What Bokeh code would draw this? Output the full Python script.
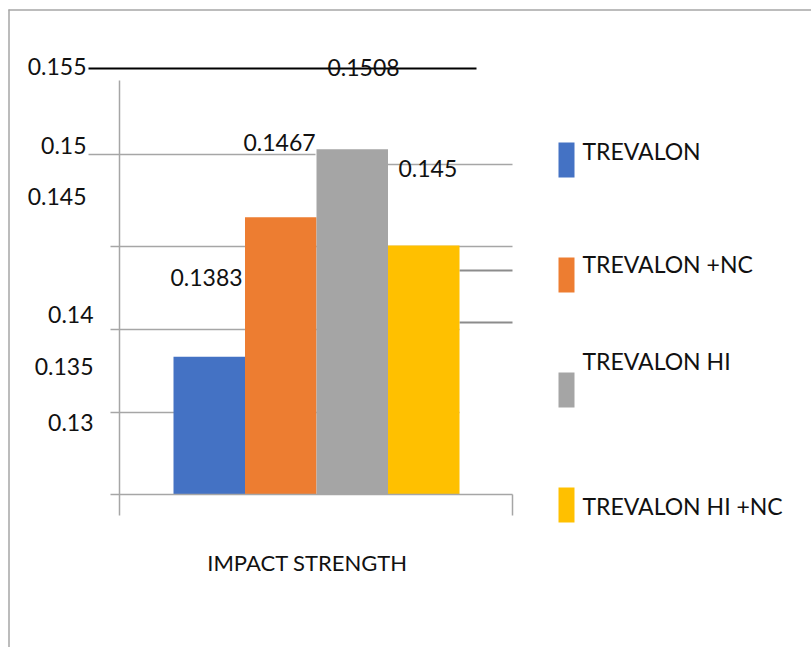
from bokeh.plotting import figure
from bokeh.models import Range1d
from bokeh.core.properties import value
from bokeh.embed import file_html
from bokeh.resources import INLINE

# ---------------- data ----------------
series = ["TREVALON", "TREVALON +NC", "TREVALON HI", "TREVALON HI +NC"]
values = [0.1383, 0.1467, 0.1508, 0.145]
colors = ["#4472C4", "#ED7D31", "#A5A5A5", "#FFC000"]
tick_labels = ["0.155", "0.15", "0.145", "0.14", "0.135", "0.13"]
category = "IMPACT STRENGTH"
axis_min = 0.13
axis_step = 0.005

# ---------------- layout (page pixels of the reference) ----------------
W, H = 811, 647
OFF = 0                    # page offset of the canvas
PX_PER_BAR = 71.5          # width of one bar in pixels
PX_PER_UNIT = 83.0 / axis_step
BAR0_CENTER = 208.75       # page x of first bar centre
BASE_Y = 494.0             # page y of the axis baseline

x_start = -(BAR0_CENTER - OFF) / PX_PER_BAR
x_end = x_start + W / PX_PER_BAR
y_start = axis_min - (H - (BASE_Y - OFF)) / PX_PER_UNIT
y_end = y_start + H / PX_PER_UNIT


def X(px):
    return x_start + (px - OFF) / PX_PER_BAR


def Y(py):
    return y_start + (H - (py - OFF)) / PX_PER_UNIT


p = figure(width=W, height=H, x_range=Range1d(x_start, x_end),
           y_range=Range1d(y_start, y_end), output_backend="svg",
           toolbar_location=None, x_axis_type=None, y_axis_type=None,
           min_border=0)
p.grid.visible = False
p.outline_line_color = None
p.background_fill_color = "white"

FONT = value("Lato")

# outer border
p.segment(x0=[X(8.5), X(8)], y0=[Y(9), Y(9.5)], x1=[X(8.5), X(811)],
          y1=[Y(647), Y(9.5)], line_color="#a6a6a6", line_width=1.5)

# light gridlines (misplaced as in the reference)
g = [(110, 412, 459, 412), (110, 329, 459, 329), (110, 246, 512, 246),
     (88, 154, 315, 154), (387, 164, 512, 164)]
p.segment(x0=[X(a) for a, b, c, d in g], y0=[Y(b) for a, b, c, d in g],
          x1=[X(c) for a, b, c, d in g], y1=[Y(d) for a, b, c, d in g],
          line_color="#a6a6a6", line_width=1.5)
g2 = [(459, 270, 512, 270), (459, 322, 512, 322)]
p.segment(x0=[X(a) for a, b, c, d in g2], y0=[Y(b) for a, b, c, d in g2],
          x1=[X(c) for a, b, c, d in g2], y1=[Y(d) for a, b, c, d in g2],
          line_color="#8c8c8c", line_width=2)

# bars
idx = list(range(len(values)))
p.vbar(x=idx, top=values, bottom=axis_min, width=1.0, fill_color=colors,
       line_color=None)

# axis lines
ax = [(110, 494, 512, 494), (119, 80, 119, 515), (512, 494, 512, 515)]
p.segment(x0=[X(a) for a, b, c, d in ax], y0=[Y(b) for a, b, c, d in ax],
          x1=[X(c) for a, b, c, d in ax], y1=[Y(d) for a, b, c, d in ax],
          line_color="#a6a6a6", line_width=1.5)

# black line at top
p.segment(x0=[X(88)], y0=[Y(68)], x1=[X(476)], y1=[Y(68)],
          line_color="black", line_width=2)

# tick labels (misplaced as in the reference)
tick_right = [86, 86, 86, 93, 93, 93]
tick_cy = [66, 145, 196, 314, 366, 422]
p.text(x=[X(v) for v in tick_right], y=[Y(v) for v in tick_cy],
       text=tick_labels, text_font=FONT, text_font_size="23px",
       text_align="right", text_baseline="middle", text_color="#111111")

# data labels
lab_left = [170, 243, 327, 398]
lab_cy = [277, 142, 67, 168]
p.text(x=[X(v) for v in lab_left], y=[Y(v) for v in lab_cy],
       text=[str(v) for v in values], text_font=FONT, text_font_size="23px",
       text_align="left", text_baseline="middle", text_color="#111111")

# category label
p.text(x=[X(307)], y=[Y(562)], text=[category], text_font=FONT,
       text_font_size="22px", text_align="center", text_baseline="middle",
       text_color="#111111")

# legend
sw_top = [142, 257, 372, 487]
p.quad(left=X(558), right=X(574), top=[Y(t) for t in sw_top],
       bottom=[Y(t + 35) for t in sw_top], fill_color=colors, line_color=None)
leg_cy = [150, 263, 360, 505]
p.text(x=X(582), y=[Y(v) for v in leg_cy], text=series, text_font=FONT,
       text_font_size="23px", text_align="left", text_baseline="middle",
       text_color="#111111")

open("out.html", "w").write(file_html(p, INLINE))
